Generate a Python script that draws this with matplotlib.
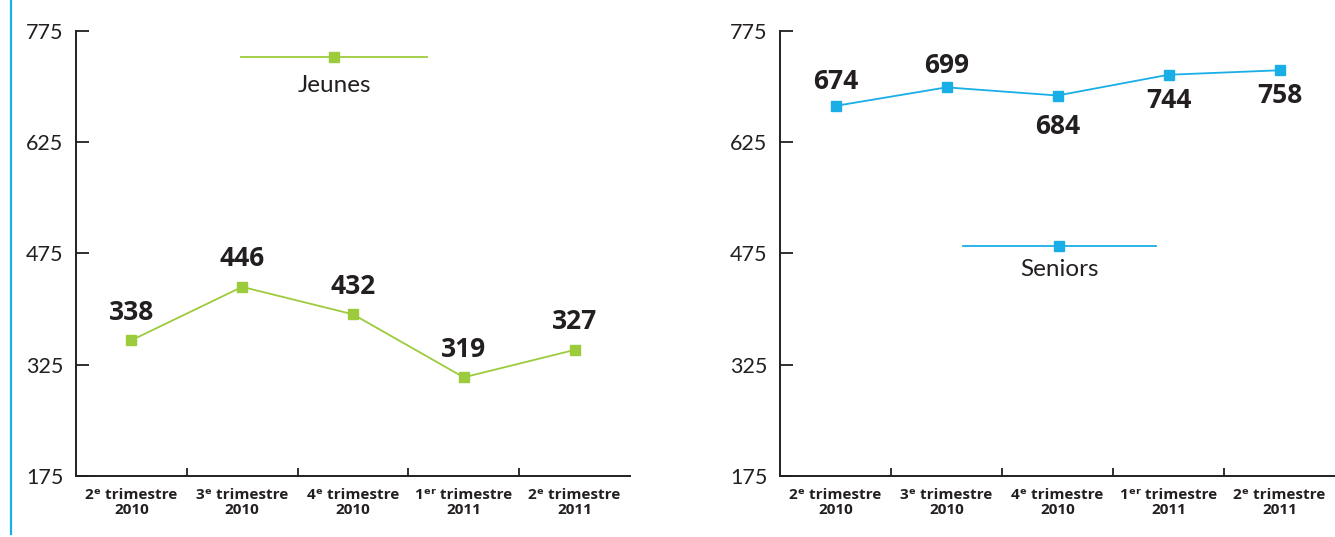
import numpy as np
import matplotlib.pyplot as plt
from matplotlib.lines import Line2D

# categories (trimestres)
trimestres = ['2\u1d49 trimestre\n2010', '3\u1d49 trimestre\n2010', '4\u1d49 trimestre\n2010',
              '1\u1d49\u02b3 trimestre\n2011', '2\u1d49 trimestre\n2011']

jeunes = [358, 430, 393, 308, 345]
jeunes_labels = ['338', '446', '432', '319', '327']
seniors = [674, 699, 688, 716, 722]
seniors_labels = ['674', '699', '684', '744', '758']

yticks = [175, 325, 475, 625, 775]

green = '#9ccb3b'
blue = '#1aaee6'
dark = '#231f20'
tick_font = ['Lato', 'DejaVu Sans']
lab_font = ['Open Sans', 'DejaVu Sans']

fig = plt.figure(figsize=(13.35, 5.37), dpi=100)
ax1 = fig.add_axes([0.0569, 0.1136, 0.415, 0.8287])
ax2 = fig.add_axes([0.5843, 0.1136, 0.4157, 0.8287])

# blue bar on the far left
fig.add_artist(Line2D([0.0079, 0.0079], [0.005, 1.0], color=blue, lw=1.6,
                      transform=fig.transFigure))

x = np.arange(len(trimestres))


def setup(ax):
    ax.set_xlim(-0.5, 4.5)
    ax.set_ylim(175, 775)
    for s in ['top', 'right']:
        ax.spines[s].set_visible(False)
    for s in ['left', 'bottom']:
        ax.spines[s].set_color(dark)
        ax.spines[s].set_linewidth(1.4)
    ax.set_yticks(yticks)
    ax.set_yticklabels([str(v) for v in yticks], family=tick_font, fontsize=15.5,
                       color=dark)
    ax.tick_params(axis='y', direction='in', length=9, width=1.3, color=dark, pad=9)
    ax.set_xticks(x)
    ax.set_xticklabels(trimestres, family=lab_font, fontsize=11, fontweight='bold',
                       color=dark, linespacing=1.05)
    ax.tick_params(axis='x', which='major', length=0, pad=9)
    ax.set_xticks(x[:-1] + 0.5, minor=True)
    ax.tick_params(axis='x', which='minor', direction='in', length=6, width=1.3, color=dark)


def key(ax, color, x0, x1, y, name, ty):
    ax.plot([x0, x1], [y, y], color=color, lw=1.3, transform=ax.transAxes, clip_on=False)
    ax.plot([(x0 + x1) / 2], [y], 's', color=color, ms=7, transform=ax.transAxes, clip_on=False)
    ax.text((x0 + x1) / 2, ty, name, transform=ax.transAxes, ha='center', va='center',
            family=tick_font, fontsize=17.5, color=dark)


setup(ax1)
ax1.plot(x, jeunes, '-s', color=green, lw=1.3, ms=7)
for xi, yi, t in zip(x, jeunes, jeunes_labels):
    ax1.annotate(t, (xi, yi), xytext=(0, 28), textcoords='offset pixels', ha='center',
                 va='center', family=lab_font, fontsize=19, fontweight='bold', color=dark)
key(ax1, green, 0.298, 0.634, 0.9416, 'Jeunes', 0.877)

setup(ax2)
ax2.plot(x, seniors, '-s', color=blue, lw=1.3, ms=7)
offsets = [24, 22, -31, -26, -25]
for xi, yi, t, o in zip(x, seniors, seniors_labels, offsets):
    ax2.annotate(t, (xi, yi), xytext=(0, o), textcoords='offset pixels', ha='center',
                 va='center', family=lab_font, fontsize=19, fontweight='bold', color=dark)
key(ax2, blue, 0.330, 0.677, 0.517, 'Seniors', 0.463)

fig.savefig('out.png', dpi=100)
